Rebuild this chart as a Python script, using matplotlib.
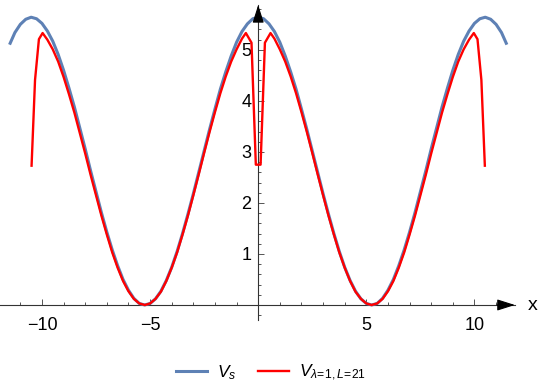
import matplotlib
matplotlib.use('Agg')
import matplotlib.pyplot as plt

plt.rcParams['font.family'] = ['Liberation Sans', 'DejaVu Sans']
plt.rcParams['mathtext.fontset'] = 'custom'
plt.rcParams['mathtext.rm'] = 'Liberation Sans'
plt.rcParams['mathtext.it'] = 'Liberation Sans:italic'

# V_s curve
xs_blue = [-11.47, -11.25, -11.0, -10.75, -10.5, -10.25, -10.0, -9.75, -9.5, -9.25, -9.0,
           -8.75, -8.5, -8.25, -8.0, -7.75, -7.5, -7.25, -7.0, -6.75, -6.5, -6.25, -6.0,
           -5.75, -5.5, -5.25, -5.0, -4.75, -4.5, -4.25, -4.0, -3.75, -3.5, -3.25, -3.0,
           -2.75, -2.5, -2.25, -2.0, -1.75, -1.5, -1.25, -1.0, -0.75, -0.5, -0.25, 0.0,
           0.25, 0.5, 0.75, 1.0, 1.25, 1.5, 1.75, 2.0, 2.25, 2.5, 2.75, 3.0,
           3.25, 3.5, 3.75, 4.0, 4.25, 4.5, 4.75, 5.0, 5.25, 5.5, 5.75, 6.0,
           6.25, 6.5, 6.75, 7.0, 7.25, 7.5, 7.75, 8.0, 8.25, 8.5, 8.75, 9.0,
           9.25, 9.5, 9.75, 10.0, 10.25, 10.5, 10.75, 11.0, 11.25, 11.47]
ys_blue = [5.13, 5.34, 5.50, 5.60, 5.64, 5.61, 5.52, 5.37, 5.17, 4.91, 4.60,
           4.25, 3.88, 3.47, 3.06, 2.63, 2.22, 1.81, 1.43, 1.08, 0.77, 0.50, 0.29,
           0.13, 0.03, 0.00, 0.03, 0.12, 0.27, 0.48, 0.74, 1.05, 1.40, 1.78, 2.18,
           2.60, 3.02, 3.44, 3.84, 4.23, 4.57, 4.88, 5.15, 5.36, 5.51, 5.61, 5.64,
           5.61, 5.51, 5.36, 5.15, 4.88, 4.57, 4.23, 3.84, 3.44, 3.02, 2.60, 2.18,
           1.78, 1.40, 1.05, 0.74, 0.48, 0.27, 0.12, 0.03, 0.00, 0.03, 0.13, 0.29,
           0.50, 0.77, 1.08, 1.43, 1.81, 2.22, 2.63, 3.06, 3.47, 3.88, 4.25, 4.60,
           4.91, 5.17, 5.37, 5.52, 5.61, 5.64, 5.60, 5.50, 5.34, 5.13]

# V_{lambda=1, L=21} curve
xs_red = [-10.48, -10.32, -10.14, -9.97, -9.75, -9.5, -9.25, -9.0, -8.75, -8.5, -8.25,
          -8.0, -7.75, -7.5, -7.25, -7.0, -6.75, -6.5, -6.25, -6.0, -5.75, -5.5, -5.24,
          -5.0, -4.75, -4.5, -4.25, -4.0, -3.75, -3.5, -3.25, -3.0, -2.75, -2.5, -2.25,
          -2.0, -1.75, -1.5, -1.25, -1.0, -0.75, -0.57, -0.31, -0.11,
          0.11, 0.31, 0.57, 0.75, 1.0, 1.25, 1.5, 1.75, 2.0,
          2.25, 2.5, 2.75, 3.0, 3.25, 3.5, 3.75, 4.0, 4.25, 4.5, 4.75, 5.0,
          5.24, 5.5, 5.75, 6.0, 6.25, 6.5, 6.75, 7.0, 7.25, 7.5, 7.75, 8.0,
          8.25, 8.5, 8.75, 9.0, 9.25, 9.5, 9.75, 9.97, 10.14, 10.32, 10.48]
ys_red = [2.73, 4.41, 5.21, 5.33, 5.20, 5.01, 4.77, 4.47, 4.13, 3.77, 3.37,
          2.97, 2.55, 2.15, 1.75, 1.38, 1.03, 0.73, 0.47, 0.27, 0.12, 0.03, 0.00,
          0.03, 0.12, 0.26, 0.47, 0.73, 1.03, 1.38, 1.75, 2.15, 2.56, 2.98, 3.39,
          3.78, 4.15, 4.48, 4.77, 5.01, 5.22, 5.33, 5.14, 2.75,
          2.75, 5.14, 5.33, 5.22, 5.01, 4.77, 4.48, 4.15, 3.78,
          3.39, 2.98, 2.56, 2.15, 1.75, 1.38, 1.03, 0.73, 0.47, 0.26, 0.12, 0.03,
          0.00, 0.03, 0.12, 0.27, 0.47, 0.73, 1.03, 1.38, 1.75, 2.15, 2.55, 2.97,
          3.37, 3.77, 4.13, 4.47, 4.77, 5.01, 5.20, 5.33, 5.21, 4.41, 2.73]

x_major = [-10, -5, 5, 10]
x_labels = ['\u221210', '\u22125', '5', '10']
y_major = [1, 2, 3, 4, 5]

fig = plt.figure(figsize=(5.42, 3.92), dpi=100)
ax = fig.add_axes([0.0, 0.1837, 0.950, 0.8036])
ax.set_xlim(-11.94, 11.87)
ax.set_ylim(-0.294, 5.88)

ax.plot(xs_blue, ys_blue, color='#5E81B5', lw=2.2, solid_joinstyle='round', zorder=3, label=r'$V_s$')
ax.plot(xs_red, ys_red, color='#FF0000', lw=1.7, zorder=4,
        label=r'$V_{\lambda\!=\!1,L\!=\!21}$')

axis_col = '#333333'
for s in ['top', 'right']:
    ax.spines[s].set_visible(False)
ax.spines['left'].set_position(('data', 0))
ax.spines['bottom'].set_position(('data', 0))
ax.spines['left'].set_color(axis_col)
ax.spines['bottom'].set_color(axis_col)
ax.spines['left'].set_linewidth(0.8)
ax.spines['bottom'].set_linewidth(0.8)

ax.set_xticks(x_major)
ax.set_xticklabels(x_labels)
ax.set_xticks([v for v in range(-11, 12) if v not in x_major + [0]], minor=True)
ax.set_yticks(y_major)
ax.set_yticklabels([str(v) for v in y_major])
ax.set_yticks([i / 5 for i in range(-1, 30) if i % 5 != 0], minor=True)

ax.tick_params(axis='both', which='both', direction='in', color='#555555', width=0.7)
ax.tick_params(axis='both', which='major', length=4.5, labelsize=13, colors='black')
ax.tick_params(axis='both', which='minor', length=2.5)
ax.tick_params(axis='x', which='major', pad=9)
ax.tick_params(axis='y', which='major', pad=5)
ax.tick_params(axis='both', which='both', color='#555555')

# arrow heads on the axes
ax.annotate('', xy=(1, 0), xycoords=('axes fraction', 'data'), xytext=(0.965, 0),
            textcoords=('axes fraction', 'data'),
            arrowprops=dict(arrowstyle='-|>,head_length=1.1,head_width=0.35', color='black',
                            lw=0.8, shrinkA=0, shrinkB=0))
ax.annotate('', xy=(0, 1), xycoords=('data', 'axes fraction'), xytext=(0, 0.96),
            textcoords=('data', 'axes fraction'),
            arrowprops=dict(arrowstyle='-|>,head_length=1.1,head_width=0.35', color='black',
                            lw=0.8, shrinkA=0, shrinkB=0))

fig.text(533 / 542, 1 - 305 / 392, 'x', fontsize=14, ha='center', va='center')

fig.legend(loc='center', bbox_to_anchor=(0.5, 1 - 373 / 392), ncol=2, frameon=False,
           fontsize=12.5, handlelength=1.8, columnspacing=1.2, handletextpad=0.6)

fig.savefig('out.png', dpi=100)
